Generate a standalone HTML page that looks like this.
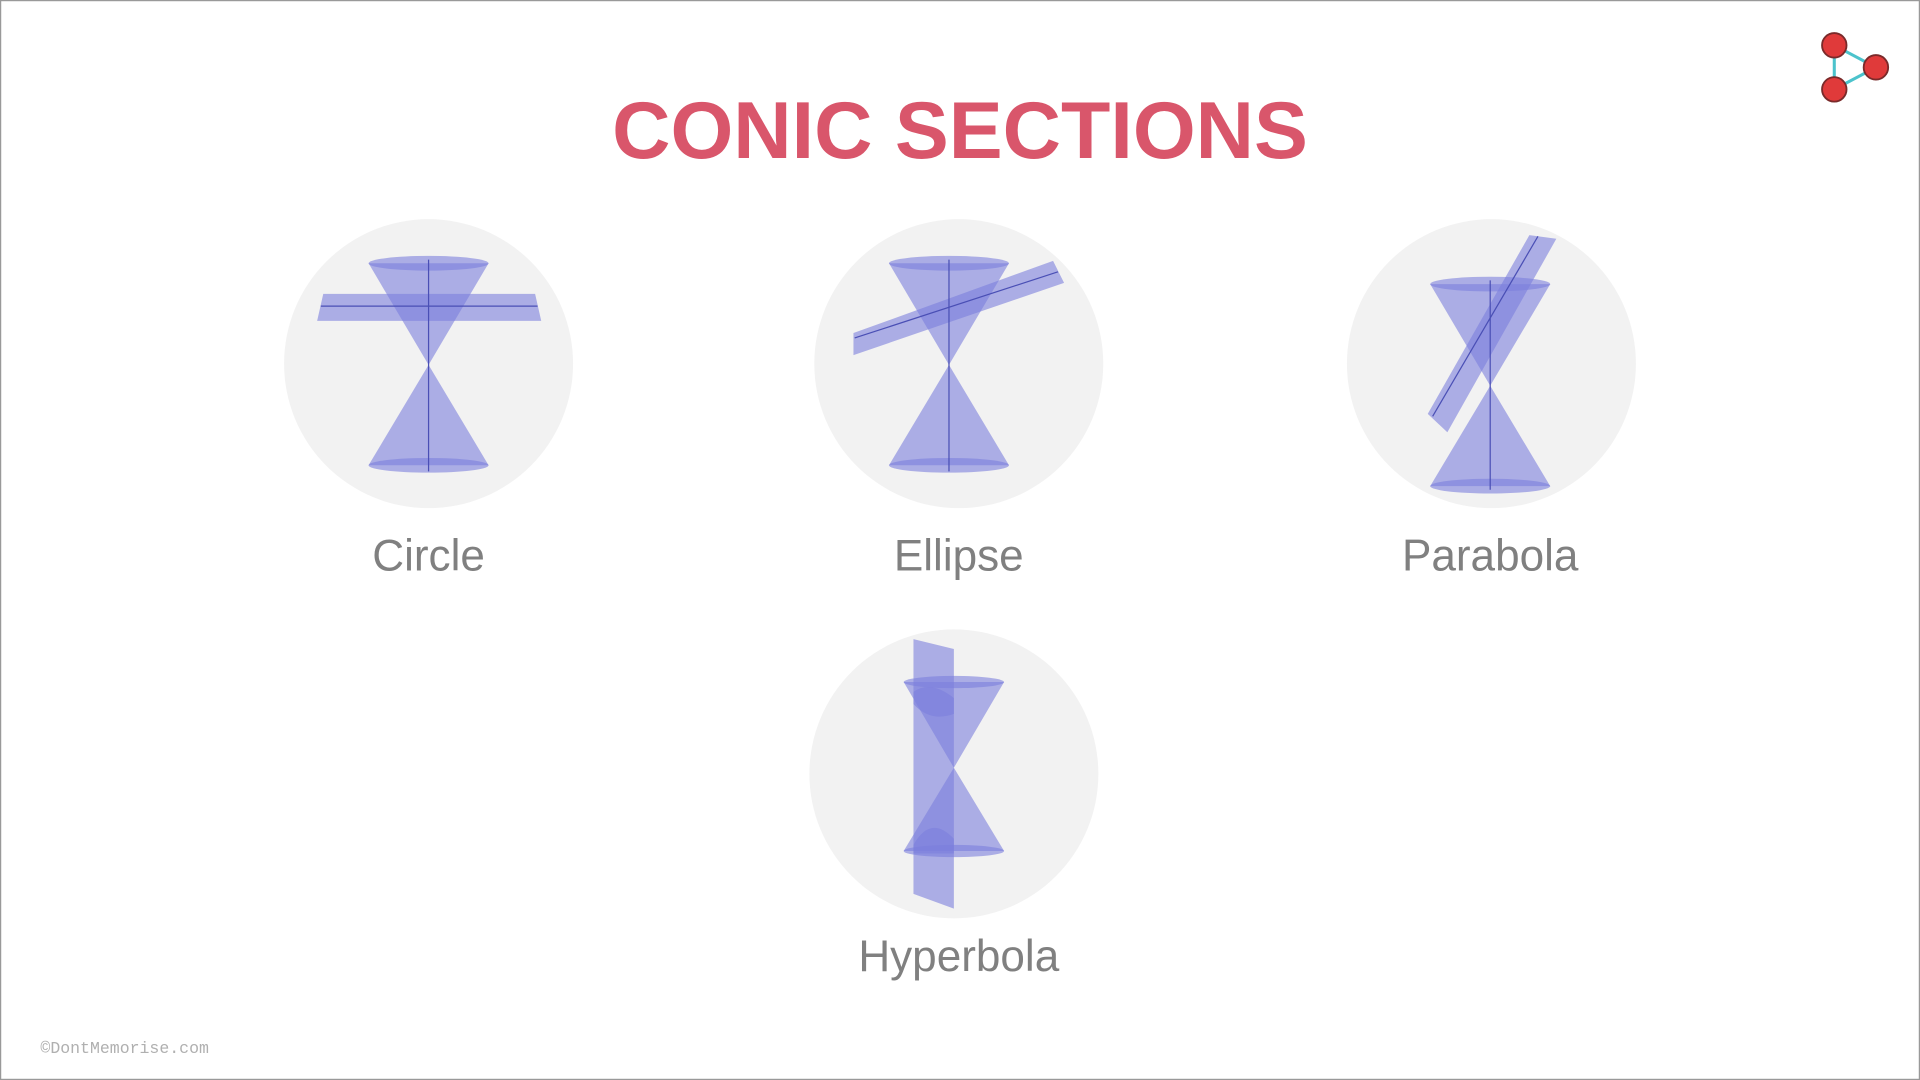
<!DOCTYPE html>
<html><head><meta charset="utf-8"><style>
html,body{margin:0;padding:0;background:#fff;width:1920px;height:1080px;overflow:hidden}
svg{display:block}
</style></head><body>
<svg width="1920" height="1080" viewBox="0 0 1568 882" preserveAspectRatio="none">
<rect x="0.5" y="0.5" width="1567" height="881" fill="#fff" stroke="#999" stroke-width="1"/>
<text x="784" y="129" text-anchor="middle" font-family="Liberation Sans, sans-serif" font-weight="bold" font-size="66" fill="#d9566b">CONIC SECTIONS</text>
<g stroke="#4cc3cc" stroke-width="2.5" fill="none">
<path d="M1498 37 L1532 55 L1498 73 Z M1498 37 L1498 73 M1498 37 L1532 55"/>
<g fill="#e03a3a" stroke="#7a2a2a" stroke-width="1.5"><circle cx="1498" cy="37" r="10"/><circle cx="1532" cy="55" r="10"/><circle cx="1498" cy="73" r="10"/></g>
</g>
<g fill="#f2f2f2">
<circle cx="350" cy="297" r="118"/>
<circle cx="783" cy="297" r="118"/>
<circle cx="1218" cy="297" r="118"/>
<circle cx="779" cy="632" r="118"/>
</g>
<g fill="#7b7fdc" fill-opacity="0.6" stroke="none">
<g>
<path d="M301 215 L350 298 L399 215 Z"/><ellipse cx="350" cy="215" rx="49" ry="6"/>
<path d="M301 380 L350 298 L399 380 Z"/><ellipse cx="350" cy="380" rx="49" ry="6"/>
<path d="M264 240 L437 240 L442 262 L259 262 Z"/>
<line x1="262" y1="250" x2="439" y2="250" stroke="#4a4fb5" stroke-width="1"/>
<line x1="350" y1="212" x2="350" y2="385" stroke="#4a4fb5" stroke-width="1"/>
</g>
<g>
<path d="M726 215 L775 298 L824 215 Z"/><ellipse cx="775" cy="215" rx="49" ry="6"/>
<path d="M726 380 L775 298 L824 380 Z"/><ellipse cx="775" cy="380" rx="49" ry="6"/>
<path d="M697 272 L860 213 L869 231 L697 290 Z"/>
<line x1="698" y1="276" x2="864" y2="222" stroke="#4a4fb5" stroke-width="1"/>
<line x1="775" y1="212" x2="775" y2="385" stroke="#4a4fb5" stroke-width="1"/>
</g>
<g>
<path d="M1168 232 L1217 315 L1266 232 Z"/><ellipse cx="1217" cy="232" rx="49" ry="6"/>
<path d="M1168 397 L1217 315 L1266 397 Z"/><ellipse cx="1217" cy="397" rx="49" ry="6"/>
<path d="M1166 338 L1249 192 L1271 195 L1182 353 Z"/>
<line x1="1170" y1="340" x2="1256" y2="193" stroke="#4a4fb5" stroke-width="1"/>
<line x1="1217" y1="229" x2="1217" y2="400" stroke="#4a4fb5" stroke-width="1"/>
</g>
<g>
<path d="M738 557 L779 627 L820 557 Z"/><ellipse cx="779" cy="557" rx="41" ry="5"/>
<path d="M738 695 L779 627 L820 695 Z"/><ellipse cx="779" cy="695" rx="41" ry="5"/>
<path d="M746 522 L779 530 L779 742 L746 730 Z"/>
<path d="M746 565 Q760 555 779 570 L779 583 Q760 590 746 575 Z"/>
<path d="M746 690 Q760 665 779 685 L779 697 L746 697 Z"/>
</g>
</g>
<g font-family="Liberation Sans, sans-serif" font-size="36" fill="#808080" text-anchor="middle">
<text x="350" y="466">Circle</text>
<text x="783" y="466">Ellipse</text>
<text x="1217" y="466">Parabola</text>
<text x="783" y="793">Hyperbola</text>
</g>
<text x="33" y="860" font-family="Liberation Mono, monospace" font-size="13.5" fill="#b0b0b0">©DontMemorise.com</text>
</svg>
</body></html>
